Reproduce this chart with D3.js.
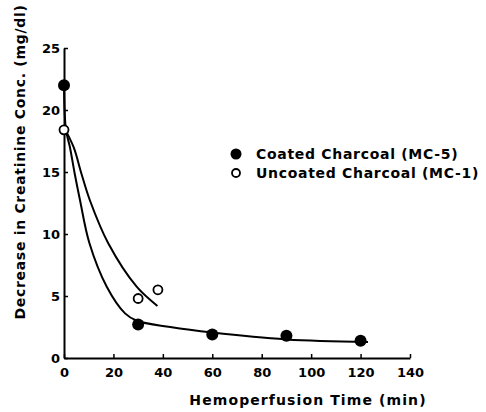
<!DOCTYPE html>
<html>
<head>
<meta charset="utf-8">
<script src="https://cdn.jsdelivr.net/npm/d3@7"></script>
<style>
  body { margin: 0; background: #fff; }
  text { font-family: "DejaVu Sans", sans-serif; font-weight: bold; fill: #000; }
</style>
</head>
<body>
<div id="chart"></div>
<script>
// data
const coatedTime = [0, 30, 60, 90, 120]
const coatedConc = [22, 2.7, 1.9, 1.8, 1.4]
const uncoatedTime = [0, 30, 38]
const uncoatedConc = [18.4, 4.8, 5.5]

// hand-drawn fitted curves (traced)
const coatedCurveTime = [0, 0.8, 2.4, 4.3, 6.5, 10.3, 17.3, 24.7, 29.5, 43, 60, 90, 123]
const coatedCurveConc = [21.8, 18.4, 17.0, 14.9, 12.7, 9.25, 5.75, 3.6, 3.0, 2.5, 2.05, 1.5, 1.3]
const uncoatedCurveTime = [0, 3.9, 7.0, 10.5, 17.9, 29.4, 37.8]
const uncoatedCurveConc = [18.6, 17.0, 14.9, 12.7, 9.25, 5.75, 4.2]

const xTicks = [0, 20, 40, 60, 80, 100, 120, 140]
const yTicks = [0, 5, 10, 15, 20, 25]

const W = 486, H = 412
const x = d3.scaleLinear().domain([0, 140]).range([64, 410])
const y = d3.scaleLinear().domain([0, 25]).range([358, 48])

const svg = d3.select('#chart').append('svg')
    .attr('width', W)
    .attr('height', H)

// axes
const xAxis = svg.append('g')
    .attr('transform', 'translate(0,' + y(0) + ')')
    .call(d3.axisBottom(x).tickValues(xTicks).tickSizeInner(-4).tickSizeOuter(0).tickPadding(10))
const yAxis = svg.append('g')
    .attr('transform', 'translate(' + x(0) + ',0)')
    .call(d3.axisLeft(y).tickValues(yTicks).tickSizeInner(-4).tickSizeOuter(0).tickPadding(4))

;[xAxis, yAxis].forEach(function(a){
    a.select('.domain').attr('stroke', '#000').attr('stroke-width', 2)
    a.selectAll('.tick line').attr('stroke', '#000').attr('stroke-width', 1.5)
    a.selectAll('.tick text')
        .style('font-family', '"DejaVu Sans", sans-serif')
        .style('font-weight', 'bold')
        .style('font-size', '13px')
        .attr('fill', '#000')
})
yAxis.selectAll('.tick text').attr('dy', '0.35em')

// curves
const line = d3.line()
    .x(function(d){ return x(d[0]) })
    .y(function(d){ return y(d[1]) })
    .curve(d3.curveCatmullRom.alpha(0.5))

svg.append('path')
    .datum(coatedCurveTime.map(function(t, i){ return [t, coatedCurveConc[i]] }))
    .attr('d', line)
    .attr('fill', 'none').attr('stroke', '#000').attr('stroke-width', 2)
svg.append('path')
    .datum(uncoatedCurveTime.map(function(t, i){ return [t, uncoatedCurveConc[i]] }))
    .attr('d', line)
    .attr('fill', 'none').attr('stroke', '#000').attr('stroke-width', 2)

// points
svg.selectAll('.coated')
    .data(coatedTime.map(function(t, i){ return [t, coatedConc[i]] }))
    .enter().append('circle').classed('coated', true)
    .attr('cx', function(d){ return x(d[0]) })
    .attr('cy', function(d){ return y(d[1]) })
    .attr('r', 6)
    .attr('fill', '#000')
svg.selectAll('.uncoated')
    .data(uncoatedTime.map(function(t, i){ return [t, uncoatedConc[i]] }))
    .enter().append('circle').classed('uncoated', true)
    .attr('cx', function(d){ return x(d[0]) })
    .attr('cy', function(d){ return y(d[1]) })
    .attr('r', 4.5)
    .attr('fill', '#fff')
    .attr('stroke', '#000')
    .attr('stroke-width', 1.8)

// legend
const legend = svg.append('g')
legend.append('circle').attr('cx', 236).attr('cy', 154).attr('r', 5.5).attr('fill', '#000')
legend.append('circle').attr('cx', 236).attr('cy', 173).attr('r', 4)
    .attr('fill', '#fff').attr('stroke', '#000').attr('stroke-width', 1.8)
legend.append('text').attr('x', 256).attr('y', 159).style('font-size', '14px')
    .style('letter-spacing', '0.7px')
    .text('Coated Charcoal (MC-5)')
legend.append('text').attr('x', 256).attr('y', 178).style('font-size', '14px')
    .style('letter-spacing', '0.7px')
    .text('Uncoated Charcoal (MC-1)')

// axis titles
svg.append('text')
    .attr('x', 308).attr('y', 405)
    .attr('text-anchor', 'middle')
    .style('font-size', '14px')
    .style('letter-spacing', '1.1px')
    .text('Hemoperfusion Time (min)')
svg.append('text')
    .attr('transform', 'translate(25,162) rotate(-90)')
    .attr('text-anchor', 'middle')
    .style('font-size', '14px')
    .style('letter-spacing', '0.7px')
    .text('Decrease in Creatinine Conc.  (mg/dl)')
</script>
</body>
</html>
